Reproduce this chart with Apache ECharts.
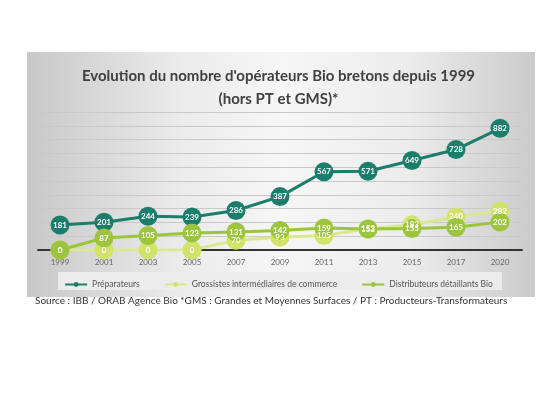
<!DOCTYPE html>
<html>
<head>
<meta charset="utf-8">
<script src="https://cdn.jsdelivr.net/npm/echarts@6/dist/echarts.min.js"></script>
<style>
  html, body { margin: 0; padding: 0; background: #fff; }
  #main { width: 557px; height: 396px; }
</style>
</head>
<body>
<div id="main"></div>
<script>
// données
var annees = ['1999', '2001', '2003', '2005', '2007', '2009', '2011', '2013', '2015', '2017', '2020'];
var preparateurs = [181, 201, 244, 239, 286, 387, 567, 571, 649, 728, 882];
var grossistes = [0, 0, 0, 0, 70, 93, 105, 153, 183, 240, 282];
var distributeurs = [0, 87, 105, 123, 131, 142, 159, 152, 155, 165, 202];

var myChart = echarts.init(document.getElementById('main'));

// style commun des séries
function serie(nom, data, couleur, lineColor) {
    return {
        name: nom,
        type: 'line',
        data: data,
        symbol: 'circle',
        symbolSize: 19,
        itemStyle: { color: couleur },
        lineStyle: { color: lineColor, width: 3 },
        label: {
            show: true,
            position: 'inside',
            color: '#fff',
            fontSize: 8,
            fontWeight: 'bold',
            fontFamily: 'Lato'
        },
        emphasis: { disabled: true }
    };
}

var titreStyle = {
    color: '#404040',
    fontSize: 15,
    fontWeight: 'bold',
    fontFamily: 'Lato'
};

var option = {
    animation: false,
    textStyle: { fontFamily: 'Lato' },
    graphic: [
        {//fond gris dégradé
            type: 'rect',
            shape: { x: 27, y: 52, width: 508, height: 245 },
            style: {
                fill: new echarts.graphic.LinearGradient(0, 0, 1, 0, [
                    { offset: 0, color: '#c8c8c8' },
                    { offset: 0.3, color: '#ebebeb' },
                    { offset: 0.5, color: '#f6f6f6' },
                    { offset: 0.75, color: '#ececec' },
                    { offset: 1, color: '#cbcbcb' }
                ])
            },
            z: -10
        },
        {//fond de la légende
            type: 'rect',
            shape: { x: 58, y: 272, width: 444, height: 18 },
            style: { fill: '#ececec' },
            z: -9
        },
        {
            type: 'text',
            left: 35,
            top: 296,
            style: {
                text: 'Source : IBB / ORAB Agence Bio *GMS : Grandes et Moyennes Surfaces / PT : Producteurs-Transformateurs',
                fill: '#333',
                fontSize: 10,
                fontFamily: 'Lato'
            }
        }
    ],
    title: [
        {
            text: "Evolution du nombre d'opérateurs Bio bretons depuis 1999",
            left: 'center',
            top: 64,
            textStyle: titreStyle
        },
        {
            text: '(hors PT et GMS)*',
            left: 'center',
            top: 87,
            textStyle: titreStyle
        }
    ],
    legend: {
        data: ['Préparateurs', 'Grossistes intermédiaires de commerce', 'Distributeurs détaillants Bio'],
        top: 275,
        left: 'center',
        itemWidth: 22,
        itemHeight: 6,
        itemGap: 24,
        textStyle: { color: '#555', fontSize: 8.5, fontFamily: 'Lato' }
    },
    grid: { left: 38, right: 35, top: 112, bottom: 146 },
    xAxis: {
        type: 'category',
        data: annees,
        boundaryGap: true,
        axisLine: { lineStyle: { color: '#333', width: 2 } },
        axisTick: { show: false },
        axisLabel: { color: '#666', fontSize: 8, margin: 8 }
    },
    yAxis: {
        type: 'value',
        min: 0,
        max: 1000,
        interval: 100,
        axisLabel: { show: false },
        axisLine: { show: false },
        axisTick: { show: false },
        splitLine: { lineStyle: { color: '#c9c9c9', width: 1 } }
    },
    series: [
        serie('Préparateurs', preparateurs, '#1b7d6b', '#1b7d6b'),
        serie('Grossistes intermédiaires de commerce', grossistes, '#d2e36c', '#dbe98e'),
        serie('Distributeurs détaillants Bio', distributeurs, '#9cc43c', '#9cc43c')
    ]
};

myChart.setOption(option);
</script>
</body>
</html>
